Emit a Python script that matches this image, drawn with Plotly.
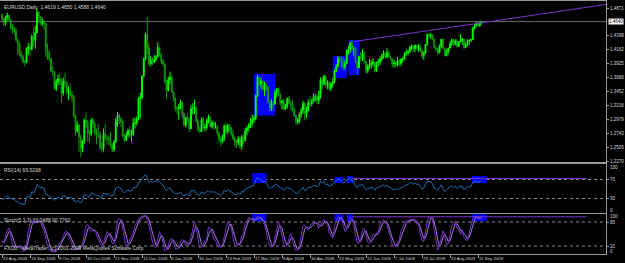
import numpy as np
import plotly.graph_objects as go
from plotly.subplots import make_subplots

# ---------------- data (EURUSD daily, 25 Aug 2008 .. 15 Sep 2009) ----------------
first_open = 1.4760
closes = [
    1.4680, 1.4620, 1.4715, 1.4745, 1.4670,
    1.4530, 1.4525, 1.4480, 1.4330, 1.4270,
    1.4100, 1.4040, 1.3950, 1.3950, 1.4180,
    1.4210, 1.4170, 1.4390, 1.4320, 1.4450,
    1.4800, 1.4720, 1.4610, 1.4640, 1.4610,
    1.4170, 1.4090, 1.4010, 1.3800, 1.3790,
    1.3500, 1.3620, 1.3670, 1.3580, 1.3420,
    1.3620, 1.3590, 1.3440, 1.3450, 1.3400,
    1.3360, 1.3040, 1.2780, 1.2880, 1.2680,
    1.2480, 1.2610, 1.2960, 1.2930, 1.2740,
    1.2730, 1.2970, 1.2900, 1.2750, 1.2720,
    1.2720, 1.2500, 1.2480, 1.2740, 1.2660,
    1.2660, 1.2640, 1.2540, 1.2460, 1.2590,
    1.2950, 1.3050, 1.2990, 1.2930, 1.2690,
    1.2620, 1.2710, 1.2790, 1.2710, 1.2720,
    1.2910, 1.2920, 1.2970, 1.3330, 1.3350,
    1.3710, 1.4000, 1.4420, 1.4200, 1.3920,
    1.3990, 1.3950, 1.4000, 1.4040,
    1.4200, 1.4080, 1.3970, 1.3920,
    1.3610, 1.3470, 1.3650, 1.3690, 1.3440,
    1.3350, 1.3170, 1.3160, 1.3180, 1.3270,
    1.3070, 1.2880, 1.3010, 1.2980, 1.2820,
    1.3160, 1.3160, 1.3180, 1.2950, 1.2800,
    1.2770, 1.2970, 1.2830, 1.2850, 1.2950,
    1.3020, 1.2860, 1.2920, 1.2860, 1.2870,
    1.2750, 1.2640, 1.2600, 1.2670, 1.2870,
    1.2770, 1.2880, 1.2830, 1.2730, 1.2660,
    1.2580, 1.2580, 1.2650, 1.2520, 1.2680,
    1.2620, 1.2790, 1.2830, 1.2880, 1.2930,
    1.2970, 1.3000, 1.3380, 1.3700, 1.3580,
    1.3630, 1.3490, 1.3550, 1.3530, 1.3290,
    1.3170, 1.3250, 1.3240, 1.3440, 1.3500,
    1.3400, 1.3260, 1.3290, 1.3150, 1.3200,
    1.3330, 1.3250, 1.3230, 1.3140, 1.3030,
    1.2940, 1.2960, 1.3080, 1.3130, 1.3250,
    1.3080, 1.3120, 1.3260, 1.3240, 1.3280,
    1.3360, 1.3360, 1.3300, 1.3370, 1.3650,
    1.3580, 1.3710, 1.3560, 1.3600, 1.3500,
    1.3580, 1.3620, 1.3800, 1.3880, 1.4010,
    1.4000, 1.3940, 1.3860, 1.3930, 1.4160,
    1.4170, 1.4280, 1.4170, 1.4180, 1.3960,
    1.3850, 1.4050, 1.4030, 1.4110, 1.3960,
    1.3800, 1.3880, 1.3910, 1.3930, 1.3950,
    1.3800, 1.3950, 1.3950, 1.4000, 1.4060,
    1.4100, 1.4030, 1.4110, 1.4040, 1.4010,
    1.3920, 1.3940, 1.3900, 1.3980, 1.3930,
    1.4000, 1.4000, 1.4090, 1.4110, 1.4120,
    1.4200, 1.4230, 1.4180, 1.4240, 1.4200,
    1.4210, 1.4150, 1.4060, 1.4110, 1.4250,
    1.4420, 1.4400, 1.4410, 1.4340, 1.4190,
    1.4170, 1.4110, 1.4220, 1.4340, 1.4190,
    1.4060, 1.4130, 1.4190, 1.4260, 1.4330,
    1.4260, 1.4310, 1.4220, 1.4300, 1.4320,
    1.4340, 1.4200, 1.4250, 1.4320, 1.4320,
    1.4330, 1.4530, 1.4580, 1.4610, 1.4570,
    1.4619, 1.4640,
]
highs = [
    1.4770, 1.4700, 1.4740, 1.4790, 1.4760,
    1.4680, 1.4590, 1.4560, 1.4530, 1.4350,
    1.4290, 1.4140, 1.4080, 1.3990, 1.4200,
    1.4280, 1.4270, 1.4420, 1.4530, 1.4570,
    1.4867, 1.4810, 1.4730, 1.4710, 1.4670,
    1.4590, 1.4270, 1.4150, 1.4020, 1.3880,
    1.3780, 1.3660, 1.3740, 1.3770, 1.3680,
    1.3690, 1.3770, 1.3630, 1.3540, 1.3580,
    1.3470, 1.3390, 1.3060, 1.2940, 1.2900,
    1.2720, 1.2630, 1.3000, 1.3100, 1.2970,
    1.2790, 1.3000, 1.3010, 1.2940, 1.2820,
    1.2900, 1.2770, 1.2580, 1.2820, 1.2900,
    1.2720, 1.2700, 1.2760, 1.2580, 1.2630,
    1.3000, 1.3100, 1.3080, 1.3010, 1.2960,
    1.2730, 1.2770, 1.2820, 1.2860, 1.2800,
    1.3000, 1.3010, 1.3030, 1.3360, 1.3430,
    1.3730, 1.4030, 1.4460, 1.4720, 1.4260,
    1.4060, 1.4030, 1.4070, 1.4070,
    1.4290, 1.4210, 1.4100, 1.4000,
    1.3930, 1.3650, 1.3710, 1.3790, 1.3740,
    1.3450, 1.3360, 1.3210, 1.3240, 1.3310,
    1.3230, 1.3100, 1.3020, 1.3080, 1.3000,
    1.3220, 1.3250, 1.3310, 1.3190, 1.2990,
    1.2850, 1.3010, 1.3020, 1.2900, 1.2990,
    1.3060, 1.3030, 1.2960, 1.2960, 1.2930,
    1.2870, 1.2760, 1.2690, 1.2720, 1.2890,
    1.2930, 1.2900, 1.2900, 1.2850, 1.2800,
    1.2680, 1.2630, 1.2700, 1.2690, 1.2710,
    1.2720, 1.2830, 1.2870, 1.2910, 1.3000,
    1.3060, 1.3050, 1.3400, 1.3738, 1.3700,
    1.3690, 1.3640, 1.3620, 1.3590, 1.3530,
    1.3300, 1.3320, 1.3300, 1.3480, 1.3510,
    1.3530, 1.3420, 1.3310, 1.3340, 1.3240,
    1.3350, 1.3380, 1.3290, 1.3310, 1.3180,
    1.3060, 1.3000, 1.3090, 1.3180, 1.3300,
    1.3260, 1.3200, 1.3320, 1.3370, 1.3330,
    1.3420, 1.3410, 1.3390, 1.3470, 1.3690,
    1.3700, 1.3740, 1.3710, 1.3640, 1.3630,
    1.3610, 1.3680, 1.3830, 1.3920, 1.4050,
    1.4050, 1.4050, 1.4040, 1.3990, 1.4170,
    1.4230, 1.4300, 1.4338, 1.4230, 1.4200,
    1.3960, 1.4060, 1.4120, 1.4170, 1.4120,
    1.3950, 1.3920, 1.4010, 1.3990, 1.4020,
    1.3960, 1.3960, 1.4010, 1.4050, 1.4090,
    1.4150, 1.4120, 1.4190, 1.4140, 1.4060,
    1.4000, 1.3990, 1.3960, 1.4040, 1.4000,
    1.4020, 1.4040, 1.4120, 1.4170, 1.4160,
    1.4220, 1.4250, 1.4240, 1.4250, 1.4250,
    1.4260, 1.4240, 1.4170, 1.4130, 1.4260,
    1.4440, 1.4440, 1.4450, 1.4420, 1.4360,
    1.4220, 1.4200, 1.4250, 1.4340, 1.4350,
    1.4200, 1.4170, 1.4200, 1.4310, 1.4350,
    1.4350, 1.4340, 1.4340, 1.4310, 1.4420,
    1.4360, 1.4350, 1.4290, 1.4340, 1.4340,
    1.4350, 1.4550, 1.4600, 1.4640, 1.4630,
    1.4630, 1.4650,
]
lows = [
    1.4640, 1.4570, 1.4570, 1.4660, 1.4630,
    1.4500, 1.4440, 1.4420, 1.4300, 1.4070,
    1.4050, 1.4000, 1.3930, 1.3880, 1.3930,
    1.4080, 1.4060, 1.4150, 1.4220, 1.4180,
    1.4440, 1.4620, 1.4580, 1.4560, 1.4500,
    1.4040, 1.3990, 1.3960, 1.3780, 1.3710,
    1.3470, 1.3460, 1.3560, 1.3560, 1.3260,
    1.3380, 1.3520, 1.3400, 1.3310, 1.3370,
    1.3280, 1.3000, 1.2700, 1.2750, 1.2420,
    1.2330, 1.2420, 1.2560, 1.2840, 1.2600,
    1.2580, 1.2700, 1.2830, 1.2700, 1.2550,
    1.2660, 1.2460, 1.2410, 1.2430, 1.2620,
    1.2550, 1.2540, 1.2500, 1.2420, 1.2430,
    1.2580, 1.2850, 1.2900, 1.2850, 1.2680,
    1.2590, 1.2610, 1.2670, 1.2660, 1.2590,
    1.2700, 1.2820, 1.2870, 1.2960, 1.3000,
    1.3320, 1.3700, 1.3980, 1.4090, 1.3880,
    1.3880, 1.3900, 1.3930, 1.3960,
    1.4030, 1.4050, 1.3920, 1.3880,
    1.3590, 1.3330, 1.3450, 1.3580, 1.3420,
    1.3280, 1.3110, 1.3060, 1.2970, 1.3150,
    1.2990, 1.2860, 1.2840, 1.2940, 1.2760,
    1.2880, 1.3060, 1.3070, 1.2910, 1.2760,
    1.2740, 1.2770, 1.2820, 1.2770, 1.2800,
    1.2910, 1.2840, 1.2820, 1.2800, 1.2820,
    1.2700, 1.2580, 1.2520, 1.2570, 1.2610,
    1.2740, 1.2720, 1.2770, 1.2700, 1.2620,
    1.2510, 1.2490, 1.2540, 1.2480, 1.2460,
    1.2560, 1.2600, 1.2710, 1.2770, 1.2830,
    1.2870, 1.2920, 1.2960, 1.3360, 1.3540,
    1.3500, 1.3450, 1.3380, 1.3460, 1.3240,
    1.3110, 1.3120, 1.3120, 1.3220, 1.3340,
    1.3370, 1.3210, 1.3150, 1.3140, 1.3150,
    1.3160, 1.3240, 1.3130, 1.3110, 1.3020,
    1.2890, 1.2890, 1.2910, 1.3010, 1.3070,
    1.2960, 1.3000, 1.3120, 1.3200, 1.3200,
    1.3260, 1.3280, 1.3240, 1.3240, 1.3330,
    1.3490, 1.3560, 1.3510, 1.3490, 1.3460,
    1.3460, 1.3520, 1.3590, 1.3780, 1.3860,
    1.3940, 1.3850, 1.3810, 1.3820, 1.3910,
    1.4080, 1.4110, 1.4120, 1.4050, 1.3940,
    1.3750, 1.3850, 1.3960, 1.3970, 1.3930,
    1.3760, 1.3760, 1.3830, 1.3840, 1.3880,
    1.3780, 1.3790, 1.3870, 1.3900, 1.3970,
    1.4010, 1.4010, 1.4030, 1.4030, 1.3980,
    1.3860, 1.3860, 1.3860, 1.3880, 1.3880,
    1.3880, 1.3940, 1.3990, 1.4060, 1.4060,
    1.4120, 1.4150, 1.4120, 1.4120, 1.4150,
    1.4130, 1.4110, 1.4010, 1.3990, 1.4080,
    1.4230, 1.4350, 1.4340, 1.4320, 1.4180,
    1.4130, 1.4070, 1.4100, 1.4190, 1.4170,
    1.4050, 1.4050, 1.4080, 1.4180, 1.4230,
    1.4230, 1.4230, 1.4200, 1.4210, 1.4290,
    1.4240, 1.4170, 1.4190, 1.4220, 1.4240,
    1.4290, 1.4330, 1.4500, 1.4540, 1.4560,
    1.4550, 1.4588,
]
date_labels = ["25 Aug 2008", "16 Sep 2008", "8 Oct 2008", "30 Oct 2008", "21 Nov 2008",
               "15 Dec 2008", "8 Jan 2009", "30 Jan 2009", "23 Feb 2009", "17 Mar 2009",
               "8 Apr 2009", "30 Apr 2009", "22 May 2009", "15 Jun 2009", "7 Jul 2009",
               "29 Jul 2009", "20 Aug 2009", "11 Sep 2009"]
date_ticks = [16 * i for i in range(len(date_labels))]
price_ticks = [1.2270, 1.2506, 1.2743, 1.2979, 1.3216, 1.3452, 1.3689,
               1.3925, 1.4162, 1.4398, 1.4871]
price_tick_text = ["1.2270", "1.2506", "1.2743", "1.2979", "1.3216", "1.3452", "1.3689",
                   "1.3925", "1.4162", "1.4398", "1.4871"]
last_price = 1.4640
header = "EURUSD,Daily  1.4619 1.4650 1.4588 1.4640"
rsi_label = "RSI(14) 69.5268"
stoch_label = "Stoch(5,3,3) 93.0488 90.7760"
copyright_text = "FXDD - MetaTrader, (c) 2001-2009 MetaQuotes Software Corp."

trend_bars = [201, 346]
trend_prices = [1.4300, 1.4935]
rsi_line_bars = [200, 334]
rsi_line_vals = [72, 72]
stoch_line_bars = [200, 334]
stoch_line_vals = [93, 93]

# (bar0, bar1, low, high)
main_boxes = [(144, 156, 1.3043, 1.3748), (189, 197, 1.3680, 1.4050), (198, 204, 1.3730, 1.4327)]
rsi_boxes = [(143, 151, 62.5, 83.5), (190, 195, 62.5, 75.5), (197, 200.6, 62.5, 77.5), (268.6, 277, 62.5, 77.5)]
stoch_boxes = [(143, 151, 82, 100), (190, 195, 82, 99), (197, 200.6, 82, 99), (268.6, 277, 82, 99)]

# ---------------- derived series ----------------
n = len(closes)
bars = list(range(n))
opens = [first_open] + closes[:-1]
c = np.array(closes); h = np.array(highs); l = np.array(lows)

# RSI(14), Wilder smoothing, seeded with the average of the first 14 moves
d = np.diff(c)
gain = np.clip(d, 0, None); loss = np.clip(-d, 0, None)
per = 14
ag = np.zeros(n); al = np.zeros(n)
ag[0] = gain[:per].mean(); al[0] = loss[:per].mean()
rsi = np.full(n, np.nan)
rsi[0] = 100 * ag[0] / (ag[0] + al[0])
for i in range(1, n):
    ag[i] = (ag[i - 1] * (per - 1) + gain[i - 1]) / per
    al[i] = (al[i - 1] * (per - 1) + loss[i - 1]) / per
    rsi[i] = 100 * ag[i] / (ag[i] + al[i])

# Stochastic(5,3,3)
hh = np.array([h[max(0, i - 4):i + 1].max() for i in range(n)])
ll = np.array([l[max(0, i - 4):i + 1].min() for i in range(n)])
num = c - ll; den = hh - ll
K = np.array([100 * num[max(0, i - 2):i + 1].sum() / max(den[max(0, i - 2):i + 1].sum(), 1e-9) for i in range(n)])
D = np.array([K[max(0, i - 2):i + 1].mean() for i in range(n)])

# ---------------- figure ----------------
fig = make_subplots(rows=3, cols=1, shared_xaxes=True, vertical_spacing=0.01)

fig.add_trace(go.Candlestick(
    x=bars, open=opens, high=highs, low=lows, close=closes,
    increasing=dict(line=dict(color="#00ff00", width=1), fillcolor="#00ff00"),
    decreasing=dict(line=dict(color="#0a9a0a", width=1), fillcolor="#0a9a0a"),
    whiskerwidth=0, showlegend=False, hoverinfo="skip"), row=1, col=1)

fig.add_trace(go.Scatter(x=trend_bars, y=trend_prices, mode="lines",
                         line=dict(color="#7b35d0", width=1), showlegend=False), row=1, col=1)

fig.add_trace(go.Scatter(x=bars, y=rsi, mode="lines",
                         line=dict(color="#1f6fb5", width=1), showlegend=False), row=2, col=1)
fig.add_trace(go.Scatter(x=rsi_line_bars, y=rsi_line_vals, mode="lines",
                         line=dict(color="#7b35d0", width=1), showlegend=False), row=2, col=1)

fig.add_trace(go.Scatter(x=bars, y=D, mode="lines",
                         line=dict(color="#a578dc", width=1), showlegend=False), row=3, col=1)
fig.add_trace(go.Scatter(x=bars, y=K, mode="lines",
                         line=dict(color="#7330c8", width=1), showlegend=False), row=3, col=1)
fig.add_trace(go.Scatter(x=stoch_line_bars, y=stoch_line_vals, mode="lines",
                         line=dict(color="#7b35d0", width=1), showlegend=False), row=3, col=1)

# rectangles
for (b0, b1, lo, hi) in main_boxes:
    fig.add_shape(type="rect", xref="x", yref="y", x0=b0, x1=b1, y0=lo, y1=hi,
                  fillcolor="#0000ff", line=dict(width=0), layer="below")
for (b0, b1, lo, hi) in rsi_boxes:
    fig.add_shape(type="rect", xref="x2", yref="y2", x0=b0, x1=b1, y0=lo, y1=hi,
                  fillcolor="#0000ff", line=dict(width=0), layer="below")
for (b0, b1, lo, hi) in stoch_boxes:
    fig.add_shape(type="rect", xref="x3", yref="y3", x0=b0, x1=b1, y0=lo, y1=hi,
                  fillcolor="#0000ff", line=dict(width=0), layer="below")

# current price line
fig.add_shape(type="line", xref="x domain", yref="y", x0=0, x1=1, y0=last_price, y1=last_price,
              line=dict(color="#6a6a6a", width=1), layer="below")
# level lines
for v in (70, 30):
    fig.add_shape(type="line", xref="x2 domain", yref="y2", x0=0, x1=1, y0=v, y1=v,
                  line=dict(color="#8a8a8a", width=1, dash="dot"), layer="below")
for v in (80, 20):
    fig.add_shape(type="line", xref="x3 domain", yref="y3", x0=0, x1=1, y0=v, y1=v,
                  line=dict(color="#8a8a8a", width=1, dash="dot"), layer="below")

txt = "#d8d8d8"
FONT = "Liberation Sans, Arial, sans-serif"
small = dict(color=txt, size=5, family=FONT)
axis_font = dict(color=txt, size=4.5, family=FONT)
date_font = dict(color=txt, size=4.3, family=FONT)
fig.add_annotation(xref="x domain", yref="y domain", x=0.004, y=0.995, xanchor="left", yanchor="top",
                   text=header, showarrow=False, font=small)
fig.add_annotation(xref="x2 domain", yref="y2 domain", x=0.004, y=0.97, xanchor="left", yanchor="top",
                   text=rsi_label, showarrow=False, font=small)
fig.add_annotation(xref="x3 domain", yref="y3 domain", x=0.004, y=0.97, xanchor="left", yanchor="top",
                   text=stoch_label, showarrow=False, font=small)
fig.add_annotation(xref="x3 domain", yref="y3 domain", x=0.004, y=0.02, xanchor="left", yanchor="bottom",
                   text=copyright_text, showarrow=False, font=small)
fig.add_annotation(xref="x domain", yref="y", x=1, y=last_price, xanchor="left", yanchor="middle", xshift=2,
                   text=f"{last_price:.4f}", showarrow=False, bgcolor="#ffffff",
                   font=dict(color="#000000", size=4.5, family=FONT), borderpad=0)
# 100 / 0 labels of the indicator windows, drawn just inside the window edges
for yref in ("y2", "y3"):
    fig.add_annotation(xref="x domain", yref=yref, x=1, y=100, xanchor="left", yanchor="top",
                       xshift=2, yshift=2, text="100", showarrow=False, font=axis_font)
    fig.add_annotation(xref="x domain", yref=yref, x=1, y=0, xanchor="left", yanchor="bottom",
                       xshift=2, yshift=-2, text="0", showarrow=False, font=axis_font)

H = 254.0
def dom(top, bot):
    return [(H - bot) / H, (H - top) / H]

axis_common = dict(showgrid=False, zeroline=False, showline=True, mirror=True,
                   linecolor="#9a9a9a", linewidth=1, automargin=False)
xr = [-1.14, 345.14]
fig.update_layout(
    width=625, height=263,
    margin=dict(l=0, r=19, t=0, b=9),
    paper_bgcolor="#000000", plot_bgcolor="#000000",
    showlegend=False,
    xaxis=dict(range=xr, rangeslider=dict(visible=False), showticklabels=False, ticks="", **axis_common),
    xaxis2=dict(range=xr, showticklabels=False, ticks="", **axis_common),
    xaxis3=dict(range=xr, tickmode="array", tickvals=date_ticks, ticktext=date_labels,
                ticks="outside", ticklen=3, tickcolor="#9a9a9a", ticklabelposition="outside right",
                tickangle=0, tickfont=date_font, **axis_common),
    yaxis=dict(domain=dom(1, 162), range=[1.2253, 1.4990], side="right", tickmode="array",
               tickvals=price_ticks, ticktext=price_tick_text, ticks="outside", ticklen=2,
               tickcolor="#9a9a9a", tickfont=axis_font, **axis_common),
    yaxis2=dict(domain=dom(164, 213), range=[-0.53, 102.6], side="right", tickmode="array",
                tickvals=[30, 70], ticks="outside", ticklen=2, tickcolor="#9a9a9a",
                tickfont=axis_font, **axis_common),
    yaxis3=dict(domain=dom(214, 254), range=[0, 100], side="right", tickmode="array",
                tickvals=[20, 80], ticks="outside", ticklen=2, tickcolor="#9a9a9a",
                tickfont=axis_font, **axis_common),
)

fig.write_html("out.html")
